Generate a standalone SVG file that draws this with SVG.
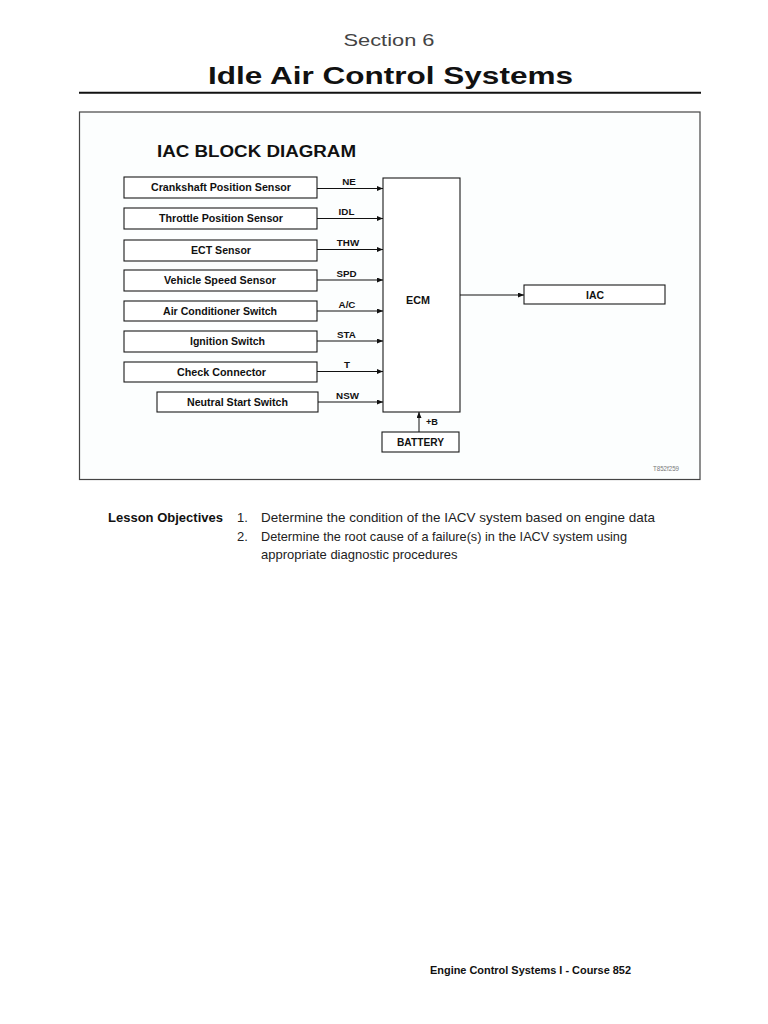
<svg xmlns="http://www.w3.org/2000/svg" width="768" height="1024" viewBox="0 0 768 1024">
<style>
text{font-family:"Liberation Sans",Arial,sans-serif;}
.b{font-weight:bold;fill:#111;}
.box{fill:#fff;stroke:#1a1a1a;stroke-width:1.1;}
.lbl{font-size:10px;font-weight:bold;fill:#111;text-anchor:middle;}
.sig{font-size:9.8px;font-weight:bold;fill:#111;text-anchor:middle;}
.conn{stroke:#111;stroke-width:1;fill:none;marker-end:url(#ah);}
.body{font-size:13px;fill:#222;}
</style>
<defs>
<marker id="ah" markerUnits="userSpaceOnUse" markerWidth="6" markerHeight="5" refX="6" refY="2.5" orient="auto">
<path d="M0,0 L6,2.5 L0,5 z" fill="#111"/>
</marker>
</defs>
<rect width="768" height="1024" fill="#fff"/>
<text x="389" y="45.5" font-size="17" fill="#444" text-anchor="middle" textLength="91" lengthAdjust="spacingAndGlyphs">Section 6</text>
<text x="390.5" y="84" class="b" font-size="24" text-anchor="middle" textLength="365" lengthAdjust="spacingAndGlyphs">Idle Air Control Systems</text>
<line x1="79" y1="92.8" x2="701" y2="92.8" stroke="#111" stroke-width="2"/>

<rect x="79.5" y="112" width="620.5" height="367.5" fill="#fcfefe" stroke="#444" stroke-width="1.2"/>
<text x="157" y="157" class="b" font-size="16" textLength="199" lengthAdjust="spacingAndGlyphs">IAC BLOCK DIAGRAM</text>

<g id="crankshaft"><rect class="box" x="124" y="177" width="193" height="21"/><text class="lbl" x="221" y="191" textLength="140" lengthAdjust="spacingAndGlyphs">Crankshaft Position Sensor</text></g>
<g id="throttle"><rect class="box" x="124" y="208" width="193" height="21"/><text class="lbl" x="221" y="222" textLength="124" lengthAdjust="spacingAndGlyphs">Throttle Position Sensor</text></g>
<g id="ect"><rect class="box" x="124" y="240" width="193" height="21"/><text class="lbl" x="221" y="254" textLength="60" lengthAdjust="spacingAndGlyphs">ECT Sensor</text></g>
<g id="vss"><rect class="box" x="124" y="270" width="193" height="21"/><text class="lbl" x="220" y="284" textLength="112" lengthAdjust="spacingAndGlyphs">Vehicle Speed Sensor</text></g>
<g id="ac"><rect class="box" x="124" y="301" width="193" height="20"/><text class="lbl" x="220" y="314.5" textLength="114" lengthAdjust="spacingAndGlyphs">Air Conditioner Switch</text></g>
<g id="ignition"><rect class="box" x="124" y="331" width="193" height="21"/><text class="lbl" x="227.5" y="345" textLength="75" lengthAdjust="spacingAndGlyphs">Ignition Switch</text></g>
<g id="check"><rect class="box" x="124" y="362" width="193" height="20"/><text class="lbl" x="221.5" y="375.5" textLength="89" lengthAdjust="spacingAndGlyphs">Check Connector</text></g>
<g id="neutral"><rect class="box" x="157" y="392" width="161" height="20"/><text class="lbl" x="237.5" y="405.5" textLength="101" lengthAdjust="spacingAndGlyphs">Neutral Start Switch</text></g>

<g id="ecm"><rect class="box" x="383" y="178" width="77" height="234"/><text class="lbl" x="418" y="304" font-size="10.5" textLength="24" lengthAdjust="spacingAndGlyphs">ECM</text></g>
<g id="iac"><rect class="box" x="524" y="285" width="141" height="19"/><text class="lbl" x="595" y="298.5" font-size="10.5" textLength="18" lengthAdjust="spacingAndGlyphs">IAC</text></g>
<g id="battery"><rect class="box" x="382" y="432" width="77" height="20"/><text class="lbl" x="420.5" y="446" textLength="47" lengthAdjust="spacingAndGlyphs">BATTERY</text></g>

<g id="connectors">
<line class="conn" x1="317" y1="188.5" x2="383" y2="188.5"/>
<line class="conn" x1="317" y1="218.5" x2="383" y2="218.5"/>
<line class="conn" x1="317" y1="249.5" x2="383" y2="249.5"/>
<line class="conn" x1="317" y1="280" x2="383" y2="280"/>
<line class="conn" x1="317" y1="311" x2="383" y2="311"/>
<line class="conn" x1="317" y1="341" x2="383" y2="341"/>
<line class="conn" x1="317" y1="371.5" x2="383" y2="371.5"/>
<line class="conn" x1="318" y1="402" x2="383" y2="402"/>
<line class="conn" x1="460" y1="295" x2="524" y2="295"/>
<line class="conn" x1="419" y1="432" x2="419" y2="412"/>
<text class="sig" x="349" y="185">NE</text>
<text class="sig" x="346.5" y="215">IDL</text>
<text class="sig" x="348" y="246">THW</text>
<text class="sig" x="346.5" y="277">SPD</text>
<text class="sig" x="347" y="308">A/C</text>
<text class="sig" x="346.5" y="338">STA</text>
<text class="sig" x="347" y="368">T</text>
<text class="sig" x="347.5" y="399">NSW</text>
<text class="sig" x="432" y="425" textLength="12" lengthAdjust="spacingAndGlyphs">+B</text>
</g>

<text x="653" y="471" font-size="8" fill="#777" textLength="26" lengthAdjust="spacingAndGlyphs">T852f259</text>

<text x="108" y="522" class="b" font-size="13" textLength="115" lengthAdjust="spacingAndGlyphs">Lesson Objectives</text>
<text x="237" y="522" class="body">1.</text>
<text x="261" y="522" class="body" textLength="394" lengthAdjust="spacingAndGlyphs">Determine the condition of the IACV system based on engine data</text>
<text x="237" y="540.5" class="body">2.</text>
<text x="261" y="540.5" class="body" textLength="366" lengthAdjust="spacingAndGlyphs">Determine the root cause of a failure(s) in the IACV system using</text>
<text x="261" y="559" class="body">appropriate diagnostic procedures</text>

<text x="430" y="974" class="b" font-size="11.5" textLength="201" lengthAdjust="spacingAndGlyphs">Engine Control Systems I - Course 852</text>
</svg>
